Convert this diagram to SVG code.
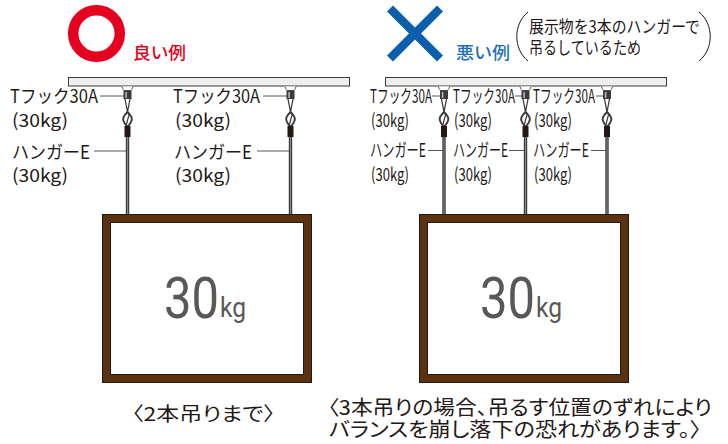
<svg xmlns="http://www.w3.org/2000/svg" width="728" height="444" viewBox="0 0 728 444">
<style>
text{font-family:"Noto Sans CJK JP","Liberation Sans",sans-serif;fill:#231815}
.l{font-size:18px}
.p{font-size:18px}
.n{font-size:17px}
.c{font-feature-settings:"palt"}
.big{font-family:Roboto,sans-serif;fill:#595757;font-size:58px}
.kg{font-family:Roboto,sans-serif;fill:#595757;font-size:28px}
.beam{fill:#efefef;stroke:#3e3a39;stroke-width:1}
.frame{fill:#fff;stroke:#231815;stroke-width:1}
.lead{stroke:#595757;stroke-width:1;fill:none}
</style>
<defs>
<g id="hanger">
<path d="M-5.500 86.500C-5 89-3.500 90.500-3.500 90.500H3.500C3.500 90.500 5 89 5.500 86.500" fill="#fff" stroke="#595757" stroke-width="1"/>
<rect x="-4" y="90.500" width="8" height="8.500" fill="#3e3a39"/>
<rect x="-2.200" y="92" width="1.600" height="6" fill="#b5b5b6"/>
<path d="M-2.500 99L0 112L2.500 99" fill="#fff" stroke="#3e3a39" stroke-width="1.300"/>
<path d="M0 112C-4 116-6 119-3 123L0 127L3 123C6 119 4 116 0 112Z" fill="#fff" stroke="#3e3a39" stroke-width="2"/>
<path d="M-1.500 126L2 113" stroke="#3e3a39" stroke-width="1.200"/>
<rect x="-3" y="126" width="6" height="11" fill="#231815"/>
<rect x="-1.700" y="137" width="3.400" height="77" fill="#3e3a39"/>
<rect x="-0.400" y="137" width="0.800" height="77" fill="#9fa0a0"/>
</g>
</defs>
<g id="good-mark">
<circle cx="96.500" cy="33.500" r="23.300" fill="none" stroke="#e60020" stroke-width="10.500"/>
<text x="133" y="59" font-size="17" font-weight="500" style="fill:#e60020" textLength="53" lengthAdjust="spacingAndGlyphs">良い例</text>
</g>
<g id="bad-mark">
<path d="M393 5.500L415 27.500L437 5.500L443 11.500L421 33.500L443 55.500L437 61.500L415 39.500L393 61.500L387 55.500L409 33.500L387 11.500Z" fill="#0b5fad"/>
<text x="456" y="59" font-size="17" font-weight="500" style="fill:#1d71b8" textLength="54" lengthAdjust="spacingAndGlyphs">悪い例</text>
</g>
<g id="note">
<path d="M528 12C513 24 513 49 528 61M699 12C714 24 714 49 699 61" fill="none" stroke="#231815" stroke-width="1"/>
<text x="529" y="33" class="n" textLength="171" lengthAdjust="spacingAndGlyphs">展示物を3本のハンガーで</text>
<text x="529" y="54" class="n" textLength="112" lengthAdjust="spacingAndGlyphs">吊るしているため</text>
</g>
<g id="beam-left"><rect class="beam" x="68.500" y="77.500" width="281" height="8.500"/></g>
<g id="beam-right"><rect class="beam" x="385.500" y="77.500" width="281" height="8.500"/></g>
<g id="connectors">
<path class="lead" d="M100 96H124M263 96H287M94 151H127M257 151H290"/>
<path class="lead" d="M432 96H441M515 96H522M596 96H604M428 150.500H444M509 150.500H525M591 150.500H607"/>
</g>
<g id="hanger-1"><use href="#hanger" x="127.500"/></g>
<g id="hanger-2"><use href="#hanger" x="290.500"/></g>
<g id="hanger-3"><use href="#hanger" x="444"/></g>
<g id="hanger-4"><use href="#hanger" x="525.500"/></g>
<g id="hanger-5"><use href="#hanger" x="607"/></g>
<g id="labels-left">
<text class="l" x="10" y="103" textLength="88" lengthAdjust="spacingAndGlyphs">Tフック30A</text>
<text class="p" x="12" y="127" textLength="56" lengthAdjust="spacingAndGlyphs">(30kg)</text>
<text class="l" x="12" y="159" textLength="78" lengthAdjust="spacingAndGlyphs">ハンガーE</text>
<text class="p" x="12" y="182" textLength="56" lengthAdjust="spacingAndGlyphs">(30kg)</text>
<text class="l" x="173" y="103" textLength="87" lengthAdjust="spacingAndGlyphs">Tフック30A</text>
<text class="p" x="175" y="127" textLength="56" lengthAdjust="spacingAndGlyphs">(30kg)</text>
<text class="l" x="174" y="159" textLength="78" lengthAdjust="spacingAndGlyphs">ハンガーE</text>
<text class="p" x="175" y="182" textLength="56" lengthAdjust="spacingAndGlyphs">(30kg)</text>
</g>
<g id="labels-right">
<text class="l" x="370" y="103" textLength="62" lengthAdjust="spacingAndGlyphs">Tフック30A</text>
<text class="p" x="371" y="127" textLength="38" lengthAdjust="spacingAndGlyphs">(30kg)</text>
<text class="l" x="370" y="157" textLength="56" lengthAdjust="spacingAndGlyphs">ハンガーE</text>
<text class="p" x="371" y="181" textLength="38" lengthAdjust="spacingAndGlyphs">(30kg)</text>
<text class="l" x="453" y="103" textLength="62" lengthAdjust="spacingAndGlyphs">Tフック30A</text>
<text class="p" x="454" y="127" textLength="38" lengthAdjust="spacingAndGlyphs">(30kg)</text>
<text class="l" x="453" y="157" textLength="55" lengthAdjust="spacingAndGlyphs">ハンガーE</text>
<text class="p" x="454" y="181" textLength="38" lengthAdjust="spacingAndGlyphs">(30kg)</text>
<text class="l" x="533" y="103" textLength="62" lengthAdjust="spacingAndGlyphs">Tフック30A</text>
<text class="p" x="534" y="127" textLength="38" lengthAdjust="spacingAndGlyphs">(30kg)</text>
<text class="l" x="533" y="157" textLength="56" lengthAdjust="spacingAndGlyphs">ハンガーE</text>
<text class="p" x="534" y="181" textLength="38" lengthAdjust="spacingAndGlyphs">(30kg)</text>
</g>
<g id="sign-left">
<rect x="102.500" y="214.500" width="209" height="168" fill="#5a3210" stroke="#231815"/>
<rect class="frame" x="110.500" y="222.500" width="193" height="152"/>
<text class="big" x="164" y="318" textLength="55" lengthAdjust="spacingAndGlyphs">30</text>
<text class="kg" x="220" y="317" textLength="26" lengthAdjust="spacingAndGlyphs">kg</text>
</g>
<g id="sign-right">
<rect x="419.500" y="214.500" width="209" height="168" fill="#5a3210" stroke="#231815"/>
<rect class="frame" x="427.500" y="222.500" width="193" height="152"/>
<text class="big" x="480" y="318" textLength="55" lengthAdjust="spacingAndGlyphs">30</text>
<text class="kg" x="536" y="317" textLength="26" lengthAdjust="spacingAndGlyphs">kg</text>
</g>
<g id="captions">
<text class="c" x="132" y="421" font-size="19" textLength="143" lengthAdjust="spacingAndGlyphs">〈2本吊りまで〉</text>
<text class="c" x="328" y="415" font-size="20" textLength="384" lengthAdjust="spacingAndGlyphs">〈3本吊りの場合、吊るす位置のずれにより</text>
<text class="c" x="329" y="437" font-size="20" textLength="372" lengthAdjust="spacingAndGlyphs">バランスを崩し落下の恐れがあります。〉</text>
</g>
</svg>
